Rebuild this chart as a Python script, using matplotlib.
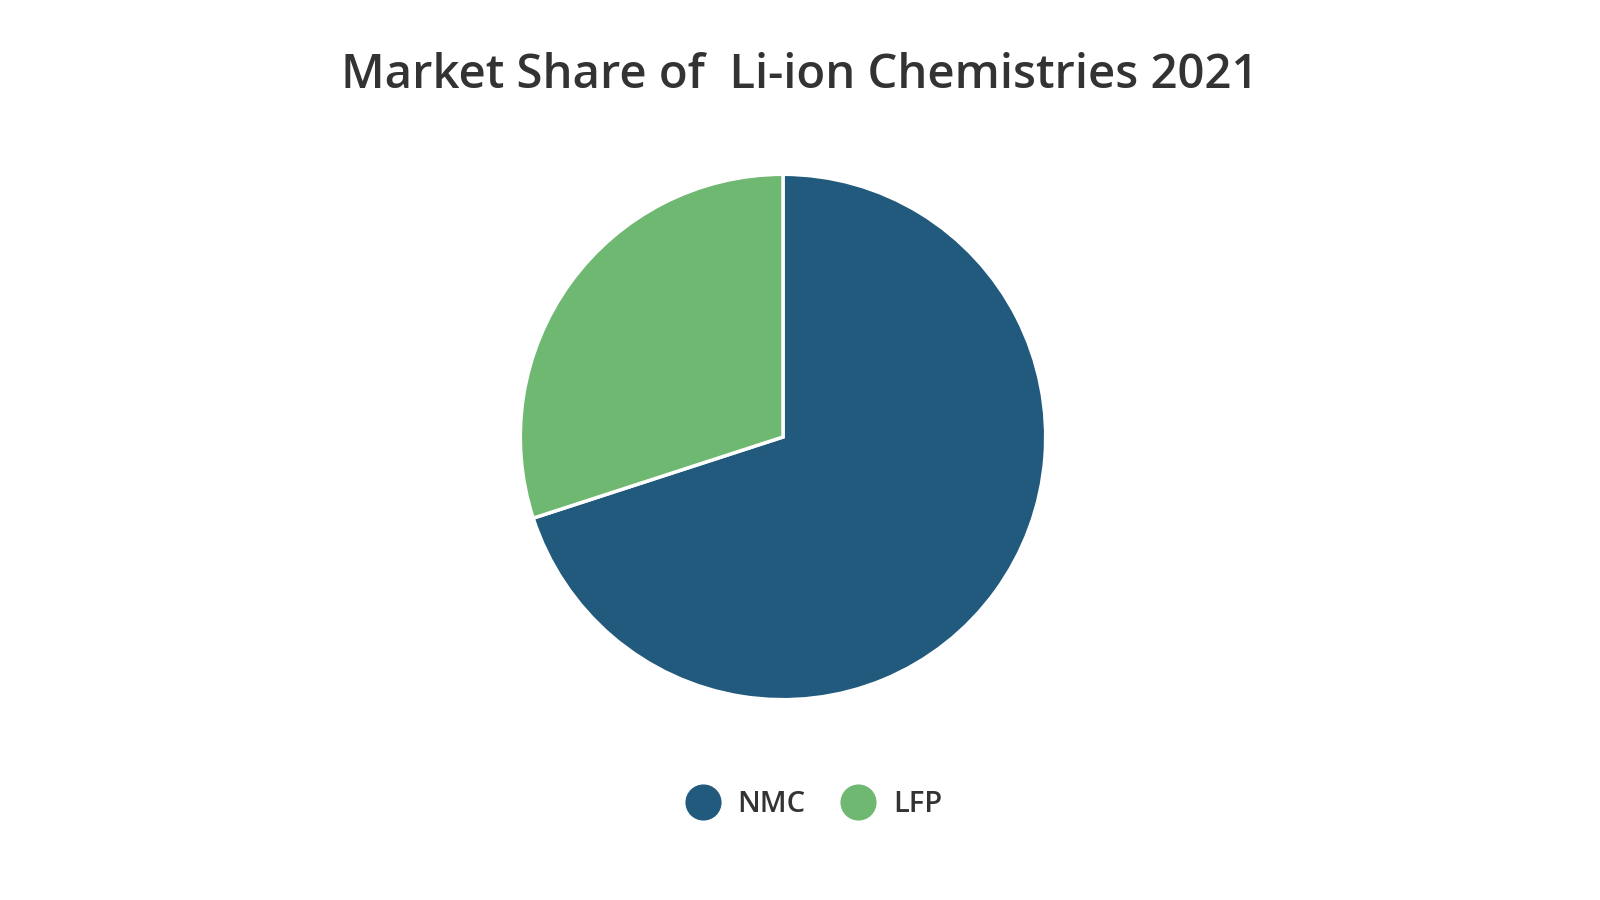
import matplotlib
matplotlib.use("Agg")
import matplotlib.pyplot as plt
from matplotlib.lines import Line2D

labels = ["NMC", "LFP"]
values = [70, 30]
colors = ["#215A7C", "#6FB872"]

plt.rcParams['font.family'] = ['Open Sans', 'DejaVu Sans']
fig = plt.figure(figsize=(16, 9), dpi=100)

pax = fig.add_axes([(783-264)/1600, 1-(437+264)/900, 528/1600, 528/900])
pax.pie(values, colors=colors, startangle=90, counterclock=False,
        wedgeprops=dict(edgecolor='white', linewidth=2.5))
pax.set_xlim(-1.005, 1.005); pax.set_ylim(-1.005, 1.005)
pax.set_aspect('equal')
pax.axis('off')

fig.text(0.5, 1-75/900, "Market Share of  Li-ion Chemistries 2021", ha='center', va='center',
         fontsize=34, fontweight='semibold', color='#333333')

handles = [Line2D([], [], marker='o', linestyle='', markersize=25, color=c) for c in colors]
fig.legend(handles, labels, loc='center', bbox_to_anchor=(0.505, 1-805/900), ncol=2, frameon=False,
           handletextpad=0.2, columnspacing=0.8, labelcolor='#333333',
           prop=dict(weight='semibold', size=21))

fig.savefig("out.png", dpi=100, facecolor='white')
